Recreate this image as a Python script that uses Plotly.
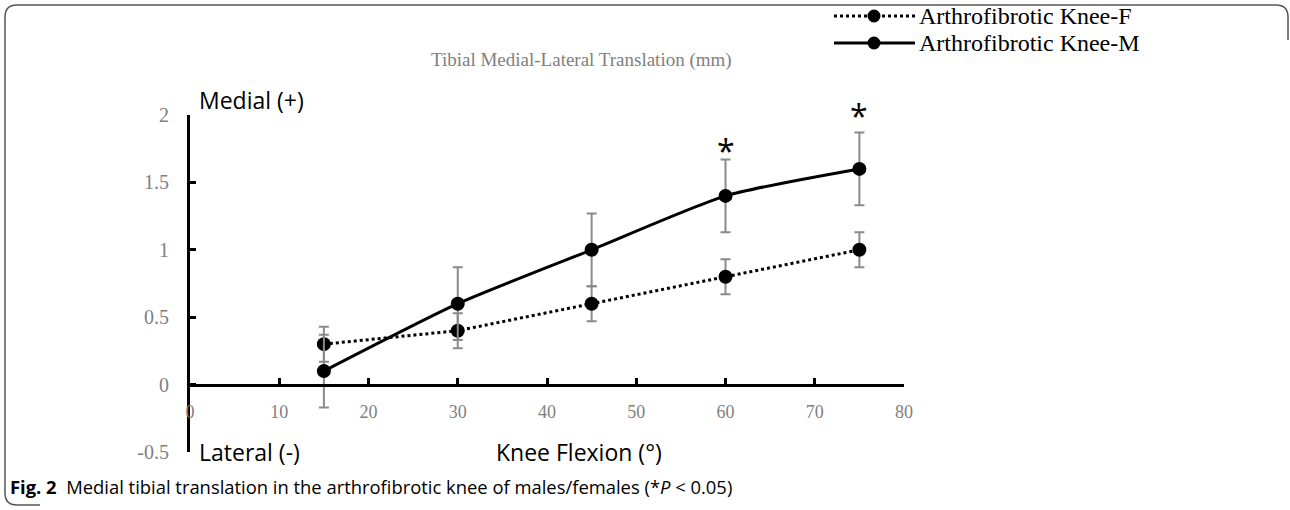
import plotly.graph_objects as go

# ---- data ----
flexion = [15, 30, 45, 60, 75]
female_mean = [0.3, 0.4, 0.6, 0.8, 1.0]
female_sd = [0.13, 0.13, 0.13, 0.13, 0.13]
male_mean = [0.1, 0.6, 1.0, 1.4, 1.6]
male_sd = [0.27, 0.27, 0.27, 0.27, 0.27]
sig_x = [60, 75]
sig_y = [1.74, 2.0]
x_ticks = [0, 10, 20, 30, 40, 50, 60, 70, 80]
y_ticks = [-0.5, 0, 0.5, 1, 1.5, 2]
y_ticklabels = ["-0.5", "0", "0.5", "1", "1.5", "2"]
series_names = ["Arthrofibrotic Knee-F", "Arthrofibrotic Knee-M"]
Y_RANGE = [-0.5, 2]
X_RANGE = [0, 80]

W, H = 1290, 510
L, R, T, B = 190, 904, 115, 452  # plot area pixel box


def px(x):
    return (x - L) / (R - L)


def py(y):
    return (B - y) / (B - T)


SERIF = "Liberation Serif, Times New Roman, serif"
SANS = "Open Sans, Noto Sans, sans-serif"
GRAY = "#808080"
ERR = "#8a8a8a"

fig = go.Figure()
fig.add_trace(go.Scatter(
    x=flexion, y=female_mean, name=series_names[0],
    mode="lines+markers",
    line=dict(color="black", width=3, dash="dot"),
    marker=dict(color="black", size=14),
    error_y=dict(type="data", array=female_sd, color=ERR, thickness=2, width=5),
    cliponaxis=False, showlegend=False,
))
fig.add_trace(go.Scatter(
    x=flexion, y=male_mean, name=series_names[1],
    mode="lines+markers",
    line=dict(color="black", width=3, shape="spline", smoothing=0.6),
    marker=dict(color="black", size=14),
    error_y=dict(type="data", array=male_sd, color=ERR, thickness=2, width=5),
    cliponaxis=False, showlegend=False,
))

annotations = []
# significance markers (x on data axis, y converted from data value to paper)
for xs, ys in zip(sig_x, sig_y):
    annotations.append(dict(x=xs, y=(ys - Y_RANGE[0]) / (Y_RANGE[1] - Y_RANGE[0]),
                            xref="x", yref="paper", text="*", showarrow=False,
                            xanchor="center", yanchor="middle",
                            font=dict(family=SANS, size=32, color="black")))

annotations += [
    dict(x=px(581), y=py(60), xref="paper", yref="paper", text="Tibial Medial-Lateral Translation (mm)",
         showarrow=False, font=dict(family=SERIF, size=19, color=GRAY), xanchor="center", yanchor="middle"),
    dict(x=px(197), y=py(100), xref="paper", yref="paper", text="Medial (+)", showarrow=False,
         font=dict(family=SANS, size=23, color="black"), xanchor="left", yanchor="middle"),
    dict(x=px(197), y=py(452), xref="paper", yref="paper", text="Lateral (-)", showarrow=False,
         font=dict(family=SANS, size=23, color="black"), xanchor="left", yanchor="middle"),
    dict(x=px(579), y=py(452), xref="paper", yref="paper", text="Knee Flexion (°)", showarrow=False,
         font=dict(family=SANS, size=23, color="black"), xanchor="center", yanchor="middle"),
    dict(x=px(8), y=py(486), xref="paper", yref="paper",
         text="<b>Fig. 2</b>  Medial tibial translation in the arthrofibrotic knee of males/females (*<i>P</i> &lt; 0.05)",
         showarrow=False, font=dict(family=SANS, size=18.4, color="black"), xanchor="left", yanchor="middle"),
]

# custom legend
legend_rows = [16, 43]
legend_dash = ["dot", "solid"]
shapes = []
for name, ry, dash in zip(series_names, legend_rows, legend_dash):
    shapes.append(dict(type="line", xref="paper", yref="paper",
                       x0=px(834), x1=px(915), y0=py(ry), y1=py(ry),
                       line=dict(color="black", width=3, dash=dash)))
    shapes.append(dict(type="circle", xref="paper", yref="paper",
                       xsizemode="pixel", ysizemode="pixel",
                       xanchor=px(874), yanchor=py(ry), x0=-6.5, x1=6.5, y0=-6.5, y1=6.5,
                       fillcolor="black", line=dict(color="black", width=0)))
    annotations.append(dict(x=px(917), y=py(ry), xref="paper", yref="paper", text=name,
                            showarrow=False, xanchor="left", yanchor="middle",
                            font=dict(family=SERIF, size=24, color="black")))


# rounded frame
def P(x, y):
    return f"{px(x):.5f},{py(y):.5f}"


frame_path = (f"M {P(40, 505)} L {P(17, 505)} Q {P(5, 505)} {P(5, 493)} L {P(5, 17)} "
              f"Q {P(5, 5)} {P(17, 5)} L {P(1276, 5)} Q {P(1288, 5)} {P(1288, 17)} L {P(1288, 40)}")
shapes.append(dict(type="path", xref="paper", yref="paper", path=frame_path,
                   line=dict(color="#555555", width=1.5)))

fig.update_layout(
    width=W, height=H,
    margin=dict(l=L, r=W - R, t=T, b=H - B),
    paper_bgcolor="white", plot_bgcolor="white",
    showlegend=False,
    annotations=annotations,
    shapes=shapes,
    xaxis=dict(range=X_RANGE, tickvals=x_ticks, showgrid=False, zeroline=False,
               showline=True, linecolor="black", linewidth=3,
               ticks="inside", ticklen=6, tickwidth=3, tickcolor="black",
               anchor="free", position=0.2,
               tickfont=dict(family=SERIF, size=18, color=GRAY), ticklabelstandoff=10),
    yaxis=dict(range=Y_RANGE, tickvals=y_ticks, ticktext=y_ticklabels, showgrid=False, zeroline=False,
               showline=True, linecolor="black", linewidth=3,
               ticks="inside", ticklen=6, tickwidth=3, tickcolor="black",
               tickfont=dict(family=SERIF, size=20, color=GRAY), ticklabelstandoff=14),
)

fig.write_html("out.html", config={"displayModeBar": False},
               post_script="document.body.style.margin='0';document.body.style.overflow='hidden';")
